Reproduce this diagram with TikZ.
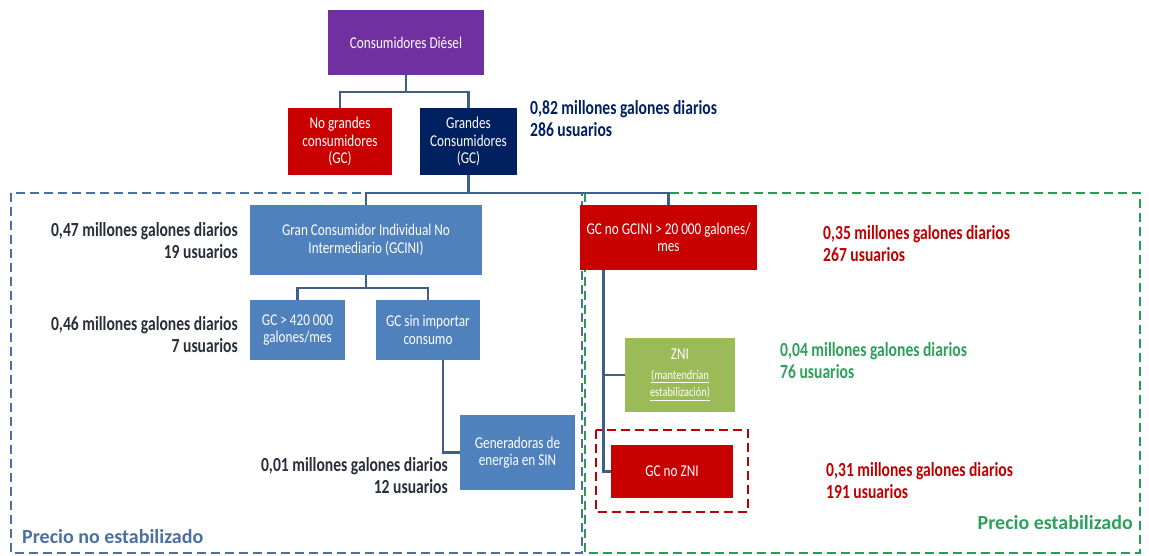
\documentclass[tikz,border=0pt]{standalone}
\usepackage{fontspec}
\setmainfont{Carlito}
\newfontfamily\boxfont[FakeStretch=0.8]{Carlito}
\newfontfamily\statfont[FakeStretch=0.78]{Carlito}
\usepackage{tikz}

\definecolor{diesel}{HTML}{7030A0}
\definecolor{gcred}{RGB}{200,0,0}
\definecolor{gcnavy}{HTML}{002060}
\definecolor{gcblue}{HTML}{4F81BD}
\definecolor{gcgreen}{HTML}{9BBB59}
\definecolor{linkcol}{HTML}{3F5F88}
\definecolor{zoneblue}{HTML}{4A6FA0}
\definecolor{zonegreen}{HTML}{20A050}
\definecolor{txtdark}{HTML}{2A2E3A}
\definecolor{txtred}{HTML}{C00000}
\definecolor{txtgreen}{HTML}{2EA05A}

\tikzset{
    box/.style={rectangle, text=white, align=center, inner sep=2pt,
        font=\boxfont\fontsize{16.5}{17.5}\selectfont},
    link/.style={draw=linkcol, line width=2.8pt},
    zone/.style={line width=2.5pt, dash pattern=on 9pt off 5pt},
    stat/.style={font=\statfont\bfseries\fontsize{20}{22}\selectfont, inner sep=0pt},
    zonelabel/.style={font=\bfseries\fontsize{20}{22}\selectfont, inner sep=0pt}
}

\begin{document}
\begin{tikzpicture}[x=1pt,y=-1pt]
        \useasboundingbox (0,0) rectangle (1149,556);

        % Draw the two price zones
        \draw[zone, zoneblue] (11,193) rectangle (582,553);
        \draw[zone, zonegreen] (585,193) rectangle (1140,553);
        \draw[zone, txtred, line width=2pt] (596,430) rectangle (748,512);

        % Top of the tree
        \node[box, fill=diesel, minimum width=156pt, minimum height=65pt] (diesel) at (406,42.5) {Consumidores Diésel};
        \node[box, fill=gcred, minimum width=104pt, minimum height=67pt] (nogc) at (340,141.5) {No grandes\\consumidores\\(GC)};
        \node[box, fill=gcnavy, minimum width=97pt, minimum height=67pt] (gc) at (468.5,141.5) {Grandes\\Consumidores\\(GC)};

        % Blue side (no estabilizado)
        \node[box, fill=gcblue, minimum width=232pt, minimum height=70pt] (gcini) at (366,240) {Gran Consumidor Individual No\\Intermediario (GCINI)};
        \node[box, fill=gcblue, minimum width=95pt, minimum height=60pt] (gcmes) at (297.5,330) {GC > 420 000\\galones/mes};
        \node[box, fill=gcblue, minimum width=104pt, minimum height=60pt] (gcsin) at (428,330) {GC sin importar\\consumo};
        \node[box, fill=gcblue, minimum width=115pt, minimum height=75pt] (gener) at (517.5,452.5) {Generadoras de\\energia en SIN};

        % Green side (estabilizado)
        \node[box, fill=gcred, minimum width=177pt, minimum height=65pt] (gcno) at (668.5,237.5) {GC no GCINI > 20 000 galones/\\mes};
        \node[box, fill=gcgreen, minimum width=110pt, minimum height=74pt] (zni) at (680,375) {ZNI\\[2pt]{\fontsize{13}{14}\selectfont\underline{(mantendrían}}\\{\fontsize{13}{14}\selectfont\underline{estabilización)}}};
        \node[box, fill=gcred, minimum width=122pt, minimum height=53pt] (gcnozni) at (672,471.5) {GC no ZNI};

        % Connectors
        \coordinate (split1) at (406,92);
        \coordinate (split2) at (468.5,193);
        \coordinate (split3) at (366,288);
        \draw[link] (diesel.south) -- (split1);
        \draw[link] (nogc.north) |- (split1) -| (gc.north);
        \draw[link] (gc.south) -- (split2);
        \draw[link] (gcini.north) |- (split2) -| (gcno.north);
        \draw[link] (gcini.south) -- (split3);
        \draw[link] (gcmes.north) |- (split3) -| (gcsin.north);
        \draw[link] ([xshift=15pt]gcsin.south) |- (gener.west);
        \draw[link] ([xshift=24pt]gcno.south west) |- (zni.west);
        \draw[link] ([xshift=24pt]gcno.south west) |- (gcnozni.west);

        % Figures next to the boxes
        \node[stat, text=gcnavy, anchor=west, align=left] (sgc) at (530,119) {0,82 millones galones diarios\\286 usuarios};
        \node[stat, text=txtdark, anchor=east, align=right] (sgcini) at (238,241) {0,47 millones galones diarios\\19 usuarios};
        \node[stat, text=txtdark, anchor=east, align=right] (sgcmes) at (238,335) {0,46 millones galones diarios\\7 usuarios};
        \node[stat, text=txtdark, anchor=east, align=right] (sgener) at (448,476) {0,01 millones galones diarios\\12 usuarios};
        \node[stat, text=txtred, anchor=west, align=left] (sgcno) at (823,244) {0,35 millones galones diarios\\267 usuarios};
        \node[stat, text=txtgreen, anchor=west, align=left] (szni) at (780,361) {0,04 millones galones diarios\\76 usuarios};
        \node[stat, text=txtred, anchor=west, align=left] (sgcnozni) at (826,481) {0,31 millones galones diarios\\191 usuarios};

        % Zone names
        \node[zonelabel, text=zoneblue, anchor=west] (lblno) at (22,537) {Precio no estabilizado};
        \node[zonelabel, text=txtgreen, anchor=east] (lblsi) at (1133,523) {Precio estabilizado};
    \end{tikzpicture}
\end{document}
